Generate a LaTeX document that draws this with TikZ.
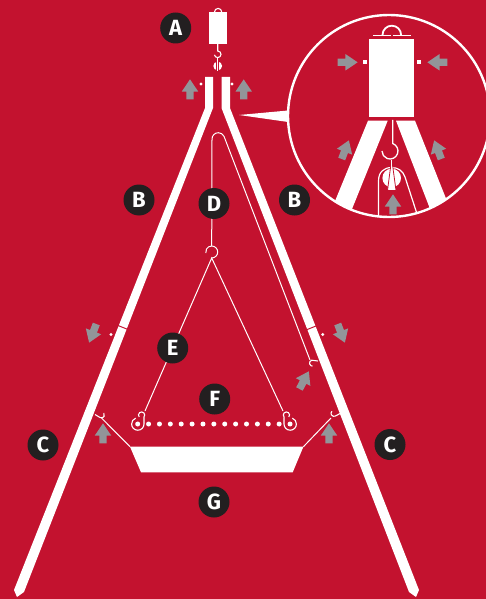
\documentclass[tikz,border=0pt]{standalone}
\usepackage{fontspec}
\setmainfont{Fira Sans}
\usetikzlibrary{shapes.arrows}
\definecolor{bgred}{HTML}{C3122F}
\definecolor{arrowgray}{HTML}{929599}
\definecolor{badgeblack}{HTML}{231F20}
\tikzset{
  badge/.style={circle, fill=badgeblack, text=white, minimum size=31pt, inner sep=0pt, font=\fontsize{22}{22}\selectfont\bfseries},
  grayarrow/.style={single arrow, fill=arrowgray, anchor=tip, inner sep=3.5pt, minimum height=20pt, single arrow head extend=4.5pt, single arrow tip angle=68, single arrow head indent=0pt},
  wire/.style={draw=white, line width=1pt},
  thinhook/.style={draw=white, line width=1.1pt},
  whitepart/.style={fill=white}
}

\begin{document}
\begin{tikzpicture}[x=1pt, y=-1pt]
  \useasboundingbox (0,0) rectangle (486,599);
  \fill[bgred] (0,0) rectangle (486,599);

  % legs
  \fill[whitepart] (205,77) -- (213,77) -- (213,108) -- (24,592) -- (17,597) -- (14,590) -- (205,108) -- cycle;
  \fill[whitepart] (221.5,77) -- (230,77) -- (230,108) -- (419,590) -- (416,597) -- (409,592) -- (221.5,108) -- cycle;
  \draw[bgred, line width=1pt] (118,325.5) -- (128,329.5);
  \draw[bgred, line width=1pt] (306,330) -- (316,326);
  \fill[whitepart] (201,84) circle[radius=1.6];
  \fill[whitepart] (232,84) circle[radius=1.6];
  \fill[whitepart] (111,334.5) circle[radius=1.7];
  \fill[whitepart] (322.7,334.5) circle[radius=1.7];

  % scale with hook and pulley
  \fill[whitepart] (209.3,12) rectangle (227.3,43.7);
  \draw[thinhook] (214.5,12) arc[start angle=180, end angle=360, radius=3.6];
  \draw[thinhook] (217.7,44) -- (217.7,51) arc[start angle=-90, end angle=170, radius=3.3];
  \fill[whitepart] (217.7,66) circle[radius=4.4];
  \fill[bgred] (216.2,60) rectangle (219.2,72);
  \draw[white, line width=0.7pt] (217.7,58) -- (217.7,71);

  % pointer to the inset
  \coordinate (tipP) at (239,115);
  \fill[whitepart] (tipP) -- (288,110.5) -- (288,122) -- cycle;

  % long wire with hooks
  \coordinate (hookD) at (211.7,258);
  \coordinate (hookR) at (310,360);
  \coordinate (ringL) at (145,411);
  \coordinate (ringR) at (283,411);
  \draw[wire] (hookD) arc[start angle=90, end angle=-190, radius=6];
  \draw[wire] (hookD) ++(0,-12) -- (212,139) arc[start angle=180, end angle=335, radius=6.3] -- (hookR);
  \draw[thinhook] (318,361) -- (314,360.5) arc[start angle=-60, end angle=-270, radius=3];
  \draw[wire] (ringL) -- (hookD) -- (ringR);

  % hanging bar
  \foreach \ox/\sx in {0/1, 428/-1}{
    \begin{scope}[shift={(\ox,0)}, xscale=\sx]
      \draw[thinhook] (139.2,417) arc[start angle=140, end angle=400, radius=3.1] -- (144,424)
        arc[start angle=0, end angle=250, radius=6.2];
    \end{scope}
  }
  \foreach \i in {0,...,14}
    \fill[whitepart] ({137.7+10.88*\i},424) circle[radius=2.5];

  % tray and its hooks
  \coordinate (trayL) at (130,446.7);
  \coordinate (trayR) at (303.4,446.7);
  \coordinate (hookL) at (101.5,418);
  \coordinate (hookC) at (331,418);
  \fill[whitepart] (trayL) -- (trayR) -- (292.7,472.3) -- (141,472.3) -- cycle;
  \draw[wire] (trayL) -- (hookL);
  \draw[wire] (trayR) -- (hookC);
  \draw[thinhook] (95,414.5) -- (100,417.5) arc[start angle=120, end angle=-40, radius=3];
  \draw[thinhook] (341,413) -- (335.5,416) arc[start angle=60, end angle=225, radius=3];

  % inset
  \begin{scope}
    \clip (389,116) circle[radius=101];
    \fill[whitepart] (368,120.7) -- (387.7,120.7) -- (350,214) -- (333,206) -- cycle;
    \fill[whitepart] (396,120.7) -- (415,120.7) -- (449,206) -- (432,214) -- cycle;
    \draw[white, line width=1.2pt] (378.5,220) -- (378.5,181) .. controls (378.5,172) and (384,167.5) .. (391.7,167.5) .. controls (398,167.5) and (403,171) .. (405,177) -- (419,220);
    \fill[whitepart] (391.7,178) circle[radius=9.3];
    \filldraw[fill=white, draw=bgred, line width=0.8pt] (390.7,166) -- (392.7,166) -- (396,190.5) -- (387.5,190.5) -- cycle;
    \draw[white, line width=1.2pt] (391.7,160) -- (391.7,170);
  \end{scope}
  \fill[whitepart] (369.3,39.3) rectangle (414.3,117.3);
  \draw[white, line width=1.4pt] (373,35.7) -- (390.8,35.7);
  \draw[white, line width=1.4pt] (392.8,35.7) -- (411,35.7);
  \draw[white, line width=1.8pt] (382.5,35) arc[start angle=180, end angle=360, radius=9.3];
  \draw[white, line width=1.3pt] (392.7,120) -- (392.7,143.5) arc[start angle=-70, end angle=180, radius=8];
  \fill[whitepart] (363,60.2) rectangle (367,64.4);
  \fill[whitepart] (417,60.2) rectangle (421,64.4);
  \node[draw=white, line width=2.4pt, circle, minimum size=202pt, inner sep=0pt] (inset) at (389,116) {};

  % gray arrows
  \foreach \nm/\tx/\ty/\ang in {upL/190/79/90, upR/243.7/79/90, inW/358/62.3/0, inE/427/62.3/180,
      inNW/349/140/69, inNE/434/140/111, inUp/393/194/90, legL/89/343/249, legR/345/343/291,
      hookUp/309/371/62, trayUpL/103/423/90, trayUpR/329/423/90}
    \node[grayarrow, rotate=\ang] (\nm) at (\tx,\ty) {};

  % labels
  \node[badge] (labA) at (175.7,28) {A};
  \node[badge] (labB1) at (139,200) {B};
  \node[badge] (labB2) at (294.5,200) {B};
  \node[badge] (labC1) at (43,445) {C};
  \node[badge] (labC2) at (390,444.5) {C};
  \node[badge] (labD) at (214,203.5) {D};
  \node[badge] (labE) at (172.7,348) {E};
  \node[badge] (labF) at (214.7,399) {F};
  \node[badge] (labG) at (214,502) {G};
\end{tikzpicture}
\end{document}
